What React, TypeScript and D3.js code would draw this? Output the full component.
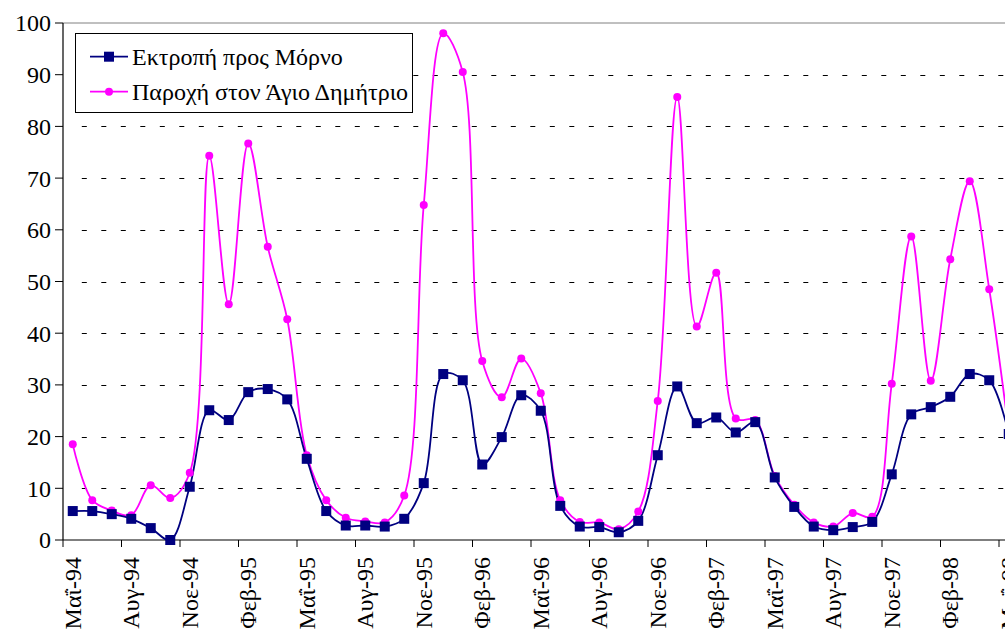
import React from 'react';
import * as d3 from 'd3';

const categories = [
  'Μαΐ-94','Ιουν-94','Ιουλ-94','Αυγ-94','Σεπ-94','Οκτ-94','Νοε-94','Δεκ-94','Ιαν-95','Φεβ-95','Μαρ-95','Απρ-95',
  'Μαΐ-95','Ιουν-95','Ιουλ-95','Αυγ-95','Σεπ-95','Οκτ-95','Νοε-95','Δεκ-95','Ιαν-96','Φεβ-96','Μαρ-96','Απρ-96',
  'Μαΐ-96','Ιουν-96','Ιουλ-96','Αυγ-96','Σεπ-96','Οκτ-96','Νοε-96','Δεκ-96','Ιαν-97','Φεβ-97','Μαρ-97','Απρ-97',
  'Μαΐ-97','Ιουν-97','Ιουλ-97','Αυγ-97','Σεπ-97','Οκτ-97','Νοε-97','Δεκ-97','Ιαν-98','Φεβ-98','Μαρ-98','Απρ-98',
  'Μαΐ-98',
];

const morno = [
  5.6, 5.6, 5.0, 4.1, 2.3, 0, 10.3, 25.1, 23.2, 28.6, 29.2, 27.2,
  15.7, 5.6, 2.8, 2.8, 2.6, 4.1, 11.0, 32.1, 30.9, 14.6, 19.9, 28.0,
  25.0, 6.6, 2.6, 2.5, 1.5, 3.7, 16.4, 29.7, 22.6, 23.7, 20.8, 22.8,
  12.1, 6.4, 2.6, 1.9, 2.5, 3.5, 12.7, 24.3, 25.7, 27.7, 32.1, 30.9,
  20.5,
];

const dimitrios = [
  18.5, 7.7, 5.7, 4.8, 10.6, 8.1, 13.0, 74.3, 45.6, 76.7, 56.7, 42.7,
  16.4, 7.7, 4.3, 3.6, 3.4, 8.6, 64.8, 98.0, 90.5, 34.6, 27.6, 35.1,
  28.4, 7.7, 3.5, 3.4, 2.1, 5.5, 26.9, 85.7, 41.3, 51.7, 23.5, 23.2,
  12.4, 6.8, 3.4, 2.6, 5.2, 4.5, 30.2, 58.7, 30.8, 54.3, 69.4, 48.5,
  21.0,
];

const yTicks = [0, 10, 20, 30, 40, 50, 60, 70, 80, 90, 100];
const seriesNames = ['Εκτροπή προς Μόρνο', 'Παροχή στον Άγιο Δημήτριο'];

const W = 1005;
const H = 630;
const BLUE = '#000080';
const MAGENTA = '#FF00FF';
const txt = { fontFamily: '"Liberation Serif"', fontSize: '24px' } as React.CSSProperties;

export default function App() {
  const left = 63;
  const step = 19.5;
  const right = left + categories.length * step;
  const x = d3.scaleBand<string>().domain(categories).range([left, right]).paddingInner(0).paddingOuter(0);
  const cx = (c: string) => (x(c) as number) + x.bandwidth() / 2;
  const y = d3.scaleLinear().domain([0, 100]).range([540, 23]);

  const line = d3
    .line<number>()
    .x((_, i) => cx(categories[i]))
    .y((d) => y(d))
    .curve(d3.curveCatmullRom.alpha(0.5));

  const tickIdx = categories.map((_, i) => i).filter((i) => i % 3 === 0);

  return (
    <svg
      width={W}
      height={H}
      style={{ position: 'fixed', left: 0, top: 0, background: '#fff' }}
    >
      <rect x={0} y={0} width={W} height={H} fill="#fff" />
      {yTicks.filter((t) => t > 0 && t < 100).map((t) => (
        <line
          key={'g' + t}
          x1={left + step - 0.7}
          x2={right}
          y1={Math.round(y(t)) + 0.5}
          y2={Math.round(y(t)) + 0.5}
          stroke="#000"
          strokeWidth={1}
          strokeDasharray="5,14.5"
        />
      ))}
      <line x1={left} x2={right} y1={y(100)} y2={y(100)} stroke="#808080" strokeWidth={1} />
      <line x1={left} x2={left} y1={y(100)} y2={y(0)} stroke="#000" strokeWidth={1.2} />
      {yTicks.map((t) => (
        <g key={'yt' + t}>
          <line x1={left - 8} x2={left} y1={y(t)} y2={y(t)} stroke="#000" strokeWidth={1} />
          <text x={51} y={y(t)} dy="0.35em" textAnchor="end" style={txt} fill="#000">
            {t}
          </text>
        </g>
      ))}
      <line x1={left} x2={right} y1={y(0)} y2={y(0)} stroke="#000" strokeWidth={1.2} />
      {tickIdx.map((i) => (
        <line
          key={'xt' + i}
          x1={x(categories[i]) as number}
          x2={x(categories[i]) as number}
          y1={y(0)}
          y2={y(0) + 7}
          stroke="#000"
          strokeWidth={1}
        />
      ))}
      {tickIdx.map((i) => (
        <text
          key={'xl' + i}
          transform={`translate(${cx(categories[i])},557) rotate(-90)`}
          dy="0.33em"
          textAnchor="end"
          style={txt}
          fill="#000"
        >
          {categories[i]}
        </text>
      ))}
      <path d={line(dimitrios) || ''} fill="none" stroke={MAGENTA} strokeWidth={1.8} />
      <path d={line(morno) || ''} fill="none" stroke={BLUE} strokeWidth={1.8} />
      {dimitrios.map((d, i) => (
        <circle key={'m' + i} cx={cx(categories[i])} cy={y(d)} r={4} fill={MAGENTA} />
      ))}
      {morno.map((d, i) => (
        <rect key={'b' + i} x={cx(categories[i]) - 5} y={y(d) - 5} width={10} height={10} fill={BLUE} />
      ))}
      <g>
        <rect x={75.5} y={33.5} width={337} height={79} fill="#fff" stroke="#000" strokeWidth={1} />
        <line x1={90} x2={128} y1={56.7} y2={56.7} stroke={BLUE} strokeWidth={1.8} />
        <rect x={104} y={51.7} width={10} height={10} fill={BLUE} />
        <text x={132} y={56.7} dy="0.35em" style={txt} fill="#000">{seriesNames[0]}</text>
        <line x1={90} x2={128} y1={91.7} y2={91.7} stroke={MAGENTA} strokeWidth={1.8} />
        <circle cx={109} cy={91.7} r={4} fill={MAGENTA} />
        <text x={132} y={91.7} dy="0.35em" style={txt} fill="#000">{seriesNames[1]}</text>
      </g>
    </svg>
  );
}
